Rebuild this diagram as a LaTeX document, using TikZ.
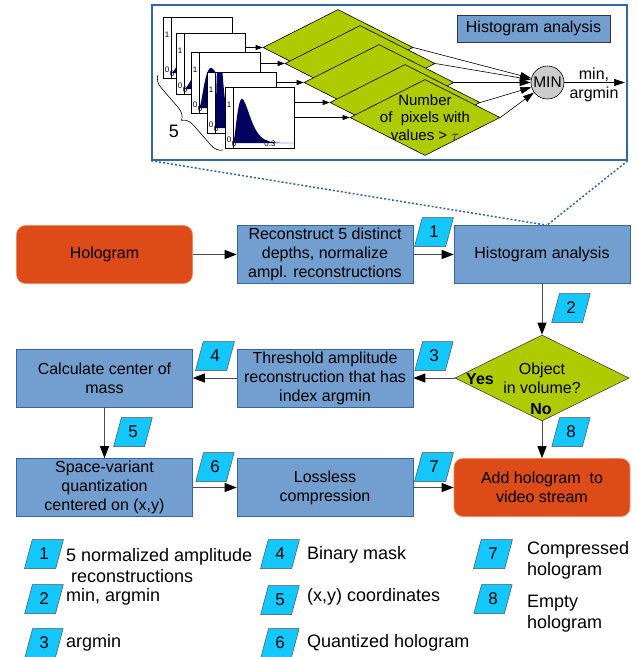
\documentclass[tikz,border=0pt]{standalone}
\usepackage{fontspec}
\setmainfont{Liberation Sans}
\usepackage{tikz}
\usetikzlibrary{arrows.meta,shapes.geometric,decorations.pathreplacing,backgrounds}
\definecolor{boxblue}{HTML}{729FCF}
\definecolor{boxedge}{HTML}{3465A4}
\definecolor{termred}{HTML}{DD4B18}
\definecolor{termedge}{HTML}{F08A5D}
\definecolor{decgreen}{HTML}{AECB00}
\definecolor{tagcyan}{HTML}{14C8FF}
\definecolor{histnavy}{HTML}{00005E}
\newcommand{\flowfont}{\fontsize{16}{19}\selectfont}
\newcommand{\legfont}{\fontsize{18}{21}\selectfont}
\newcommand{\tickfont}{\fontsize{8}{9}\selectfont}
\tikzset{
  stage/.style={rectangle,fill=boxblue,draw=boxedge,line width=0.6pt,minimum width=176pt,minimum height=58pt,inner sep=2pt,align=center,font=\flowfont},
  terminal/.style={stage,fill=termred,draw=termedge,rounded corners=9pt},
  decision/.style={diamond,aspect=2,fill=decgreen,draw=black!75,line width=0.6pt,minimum width=174pt,minimum height=86pt,inner sep=0pt,align=center,font=\flowfont},
  countdiamond/.style={diamond,fill=decgreen,draw=black,line width=0.6pt,minimum width=150pt,minimum height=76pt,inner sep=0pt},
  numtag/.style={trapezium,trapezium left angle=75,trapezium right angle=105,fill=tagcyan,draw=black!70,line width=0.5pt,minimum width=33pt,minimum height=29pt,inner sep=0pt,font=\fontsize{17}{20}\selectfont},
  flowarrow/.style={draw=black!70,line width=0.9pt,-{Triangle[length=12pt,width=9pt,color=black]}},
  feed/.style={draw=black,line width=0.6pt,-{Triangle[length=7pt,width=5pt]}},
  gather/.style={draw=black,line width=0.6pt,-{Triangle[length=11pt,width=7pt]}},
  answer/.style={font=\flowfont\bfseries,inner sep=0pt},
  legtext/.style={anchor=west,align=left,inner sep=0pt,font=\legfont},
  insettext/.style={align=center,inner sep=0pt,font=\fontsize{15}{17.5}\selectfont},
  insettitle/.style={rectangle,fill=boxblue,draw=black!80,line width=0.6pt,minimum width=153pt,minimum height=27pt,inner sep=0pt,font=\flowfont},
  insetbox/.style={rectangle,draw=boxedge,line width=1.5pt,minimum width=475pt,minimum height=155pt,inner sep=0pt},
  zoomline/.style={draw=boxedge,line width=1.5pt,dash pattern=on 2pt off 2pt},
  histframe/.style={rectangle,fill=white,draw=black,line width=0.5pt,minimum width=69pt,minimum height=61pt,inner sep=0pt},
  ticklbl/.style={font=\tickfont,inner sep=0pt},
  minnode/.style={circle,fill=black!20,draw=black,line width=0.6pt,minimum size=33pt,inner sep=0pt,font=\fontsize{15.5}{17}\selectfont}
}
\newcommand{\legentry}[6]{%
  \node[numtag] (l#1) at (#2,#3) {#1};
  \node[legtext] (lt#1) at (#4,#5) {#6};}

\begin{document}
\begin{tikzpicture}[x=1pt,y=-1pt]
  \useasboundingbox (0,0) rectangle (638,657);
  \node[insetbox] (inset) at (389.5,82.5) {};
  \foreach \i/\hx/\hy/\pk/\tall in {1/163/17/20/20,2/176/33/20/20,3/191/52/12/40,4/207/72/4/90,5/225/87/9/44}{
    \node[histframe] (f\i) at (\hx+34.5,\hy+30.5) {};
    \begin{scope}
      \clip (\hx+8,\hy) rectangle (\hx+69,\hy+56);
      \fill[histnavy] (\hx+8,\hy+56) -- plot[domain=0:61,samples=80] ({\hx+8+\x},{\hy+56-\tall*((\x/\pk)*exp(1-\x/\pk))^2}) -- (\hx+69,\hy+56) -- cycle;
    \end{scope}
    \draw[line width=0.5pt] (\hx+8,\hy) -- (\hx+8,\hy+61);
    \node[ticklbl] (one\i) at (\hx+4,\hy+18) {1};
    \node[ticklbl] (za\i) at (\hx+4,\hy+53) {0};
    \node[ticklbl] (zb\i) at (\hx+9,\hy+57) {0};
  }
  \node[ticklbl] (tmax) at (270,144) {0.3};
  \draw[line width=0.6pt,decorate,decoration={brace,amplitude=12pt}] (223,150) -- (158,75);
  \node[inner sep=0pt,font=\fontsize{18}{20}\selectfont] (five) at (174,131) {5};
  \foreach \i/\dx/\dy in {1/338/47.5,2/360/63.5,3/379/82.5,4/405/102.5,5/425/117.5}
    \node[countdiamond] (d\i) at (\dx,\dy) {};
  \begin{pgfonlayer}{background}
    \foreach \i in {1,...,5} \draw[feed] (f\i.east) -- (d\i.west);
  \end{pgfonlayer}
  \node[insettext] (count) at (d5) {Number\\of~ pixels with\\values > $\tau$};
  \node[minnode] (mn) at (547.5,82.5) {MIN};
  \foreach \i in {1,...,5} \draw[gather] (d\i.east) -- (mn);
  \coordinate (minout) at (625,82.5);
  \draw[gather] (mn) -- (minout);
  \node[insettext,font=\flowfont] (minlbl) at (594,84.5) {min,\\argmin};
  \node[insettitle] (ititle) at (533.5,28.5) {Histogram analysis};

  \node[terminal] (holo) at (104.5,254.5) {Hologram};
  \node[stage] (recon) at (325,254.5) {Reconstruct 5 distinct\\depths, normalize\\ampl. reconstructions};
  \node[stage] (hist) at (542,254.5) {Histogram analysis};
  \node[decision] (dec) at (542,378) {Object\\in volume?};
  \node[stage] (thresh) at (325,378) {Threshold amplitude\\reconstruction that has\\index argmin};
  \node[stage] (com) at (104.5,378) {Calculate center of\\mass};
  \node[stage] (quant) at (104.5,487.5) {Space-variant\\quantization\\centered on (x,y)};
  \node[stage] (lossless) at (325,487.5) {Lossless\\compression};
  \node[terminal] (stream) at (542,487.5) {Add hologram~ to\\video stream};
  \node[answer] (yes) at (480,379) {Yes};
  \node[answer] (no) at (541,409) {No};
  \draw[zoomline] (inset.south west) -- ([xshift=5pt]hist.north);
  \draw[zoomline] (inset.south east) -- ([xshift=5pt]hist.north);
  \draw[flowarrow] (holo) -- (recon);
  \draw[flowarrow] (recon) -- (hist);
  \draw[flowarrow] (hist) -- (dec);
  \draw[flowarrow] (dec) -- (thresh);
  \draw[flowarrow] (thresh) -- (com);
  \draw[flowarrow] (com) -- (quant);
  \draw[flowarrow] (quant) -- (lossless);
  \draw[flowarrow] (lossless) -- (stream);
  \draw[flowarrow] (dec) -- (stream);
  \foreach \n/\tx/\ty in {1/434/232,2/571/308,3/434/356,4/215/356,5/133/432,6/215/467,7/434/467,8/571/432}
    \node[numtag] (n\n) at (\tx,\ty) {\n};

  \legentry{1}{44}{554}{66}{565.5}{5 normalized amplitude\\\hspace*{5pt}reconstructions}
  \legentry{2}{44}{599}{66}{597}{min, argmin}
  \legentry{3}{44}{643}{66}{643}{argmin}
  \legentry{4}{280}{554}{307}{555}{Binary mask}
  \legentry{5}{280}{600}{307}{597}{(x,y) coordinates}
  \legentry{6}{280}{643}{307}{643}{Quantized hologram}
  \legentry{7}{493}{554}{527}{560}{Compressed\\hologram}
  \legentry{8}{493}{599}{527}{614}{Empty\\hologram}
\end{tikzpicture}
\end{document}
